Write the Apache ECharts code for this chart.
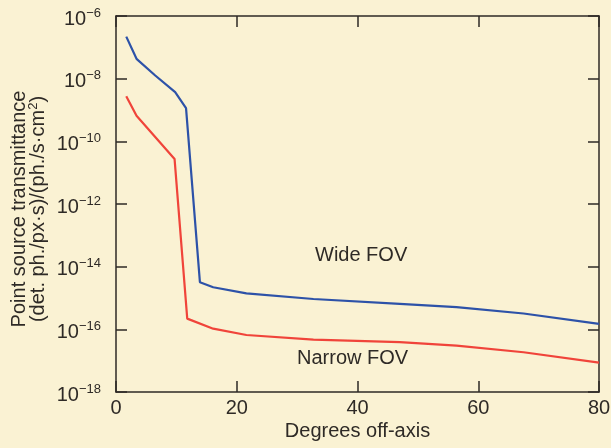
<!DOCTYPE html>
<html>
<head>
<meta charset="utf-8">
<script src="https://cdn.jsdelivr.net/npm/echarts@6/dist/echarts.min.js"></script>
<style>
  html, body { margin: 0; padding: 0; background: #faf2d3; }
  #chart { width: 611px; height: 448px; }
</style>
</head>
<body>
<div id="chart"></div>
<script>
// Degrees off-axis sampled along each curve
const wideAngles   = [1.7, 3.4, 6.5, 9.8, 11.6, 13.9, 16.1, 21.6, 32.7, 47.0, 56.4, 67.5, 80];
const wideValues   = [2.2e-7, 4.3e-8, 1.26e-8, 3.7e-9, 1.15e-9, 3.2e-15, 2.2e-15, 1.4e-15, 9.3e-16, 6.5e-16, 5.1e-16, 3.2e-16, 1.5e-16];
const narrowAngles = [1.7, 3.4, 9.7, 11.8, 16.1, 21.6, 32.7, 47.0, 56.4, 67.5, 80];
const narrowValues = [2.75e-9, 6.6e-10, 2.75e-11, 2.2e-16, 1.05e-16, 6.6e-17, 4.7e-17, 3.9e-17, 3.0e-17, 1.86e-17, 8.7e-18];
const xTicks = [0, 20, 40, 60, 80];
const yExponents = [-18, -16, -14, -12, -10, -8, -6];

const ink = '#2e2a26';
const font = '"Liberation Sans", Arial, Helvetica, sans-serif';

function pairs(xs, ys) { return xs.map((x, i) => [x, ys[i]]); }

function powLabel(v) {
  const e = Math.round(Math.log10(v));
  return '{b|10}{s|' + (e < 0 ? '\u2212' : '') + Math.abs(e) + '}';
}

const chart = echarts.init(document.getElementById('chart'), null, { renderer: 'canvas' });

const xBase = {
  type: 'value', min: xTicks[0], max: xTicks[xTicks.length - 1], interval: 20,
  axisLine: { show: true, onZero: false, lineStyle: { color: ink, width: 1.5 } },
  axisTick: { show: true, inside: true, length: 11, lineStyle: { color: ink, width: 1.5 } },
  splitLine: { show: false }
};
const yBase = {
  type: 'log', logBase: 10, min: Math.pow(10, yExponents[0]), max: Math.pow(10, yExponents[yExponents.length - 1]),
  interval: 2,
  axisLine: { show: true, onZero: false, lineStyle: { color: ink, width: 1.5 } },
  axisTick: { show: true, inside: true, length: 11, lineStyle: { color: ink, width: 1.5 } },
  splitLine: { show: false }
};

chart.setOption({
  backgroundColor: '#faf2d3',
  animation: false,
  grid: { left: 116, right: 12, top: 16, bottom: 56, containLabel: false, outerBoundsMode: 'none' },
  xAxis: [
    Object.assign({}, xBase, {
      position: 'bottom',
      name: 'Degrees off-axis', nameLocation: 'middle', nameGap: 29, nameMoveOverlap: false,
      nameTextStyle: { color: ink, fontFamily: font, fontSize: 20 },
      axisLabel: { color: ink, fontFamily: font, fontSize: 20, margin: 6 }
    }),
    Object.assign({}, xBase, { position: 'top', axisLabel: { show: false } })
  ],
  yAxis: [
    Object.assign({}, yBase, {
      position: 'left',
      name: '{t|Point source transmittance}\n{t|(det. ph./px\u00b7s)/(ph./s\u00b7cm}{u|2}{t|)}',
      nameLocation: 'middle', nameGap: 68, nameRotate: 90, nameMoveOverlap: false,
      nameTextStyle: {
        color: ink, fontFamily: font, fontSize: 20, align: 'center',
        padding: [0, 10, 0, 0],
        rich: {
          t: { fontFamily: font, fontSize: 20, color: ink, lineHeight: 19 },
          u: { fontFamily: font, fontSize: 13, color: ink, lineHeight: 19, padding: [0, 0, 10, 0] }
        }
      },
      axisLabel: {
        margin: 15,
        formatter: powLabel,
        rich: {
          b: { fontFamily: font, fontSize: 20, color: ink, lineHeight: 22, padding: [6, 0, 0, 0] },
          s: { fontFamily: font, fontSize: 13, color: ink, lineHeight: 22, padding: [0, 0, 6, 0] }
        }
      }
    }),
    Object.assign({}, yBase, { position: 'right', axisLabel: { show: false } })
  ],
  series: [
    {
      name: 'Wide FOV', type: 'line', xAxisIndex: 0, yAxisIndex: 0,
      data: pairs(wideAngles, wideValues), smooth: false, symbol: 'none',
      lineStyle: { color: '#2d52a8', width: 2.2 }
    },
    {
      name: 'Narrow FOV', type: 'line', xAxisIndex: 0, yAxisIndex: 0,
      data: pairs(narrowAngles, narrowValues), smooth: false, symbol: 'none',
      lineStyle: { color: '#f0443a', width: 2.2 }
    }
  ],
  graphic: [
    { type: 'text', left: 315, top: 245, style: { text: 'Wide FOV', fill: ink, font: '20px ' + font } },
    { type: 'text', left: 297, top: 348, style: { text: 'Narrow FOV', fill: ink, font: '20px ' + font } }
  ]
});
</script>
</body>
</html>
